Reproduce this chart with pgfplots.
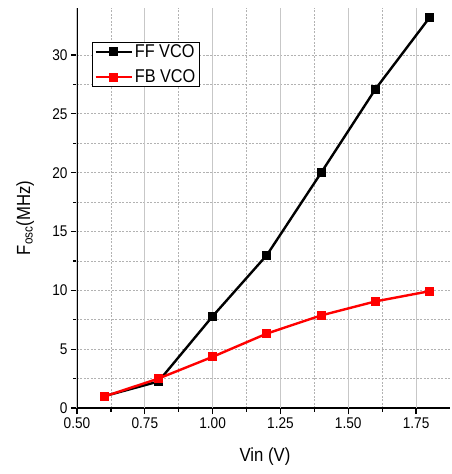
\documentclass[border=0pt]{standalone}
\usepackage{pgfplots}
\pgfplotsset{compat=1.18}
\usepackage{fontspec}
\setmainfont{Liberation Sans}[FakeStretch=0.88]
\begin{document}
\begin{tikzpicture}[x=1pt,y=1pt]
\begin{axis}[
  at={(0pt,0pt)}, anchor=south west,
  scale only axis, width=373pt, height=400pt,
  xmin=0.5, xmax=1.875, ymin=0, ymax=34,
  axis lines=left,
  axis line style={-, line width=1.6pt},
  xtick={0.5,0.75,1.0,1.25,1.5,1.75},
  ytick={0,5,10,15,20,25,30},
  minor x tick num=1, minor y tick num=1,
  tick align=outside,
  major tick length=6pt, minor tick length=3.5pt,
  tick style={black, line width=1.2pt},
  xminorgrids=true, yminorgrids=true, ymajorgrids=true, xmajorgrids=false,
  grid style={black!30, dash pattern=on 2pt off 1.5pt, line width=0.8pt},
  extra x ticks={0.5,0.75,1.0,1.25,1.5,1.75},
  extra x tick labels={},
  extra x tick style={grid=major, major grid style={solid, black!22, line width=1pt}},
  /pgf/number format/assume math mode=true,
  ticklabel style={font=\fontsize{15.5}{18}\selectfont},
  xticklabel style={/pgf/number format/.cd, fixed, fixed zerofill, precision=2},
  yticklabel style={/pgf/number format/.cd, fixed, precision=0},
  xlabel={Vin (V)},
  ylabel={F\textsubscript{osc}(MHz)},
  xlabel style={font=\fontsize{19}{22}\selectfont, at={(axis description cs:0.504,-0.1225)}, anchor=center},
  ylabel style={font=\fontsize{19}{22}\selectfont, at={(axis description cs:-0.139,0.475)}, anchor=center},
  legend style={at={(axis description cs:0.040,0.915)}, anchor=north west,
    font=\fontsize{18.5}{21}\selectfont, draw=black, line width=1pt,
    inner xsep=2pt, inner ysep=0pt, row sep=7pt},
  legend cell align=left,
  legend image code/.code={
    \draw[mark repeat=2, mark phase=2, #1] plot coordinates {(0pt,0pt) (18pt,0pt) (36pt,0pt)};
  },
]
\addplot[black, line width=2.4pt, mark=square*, mark size=4pt, mark options={solid, line width=1pt}]
  coordinates {(0.6,1.0) (0.8,2.25) (1.0,7.8) (1.2,13.0) (1.4,20.0) (1.6,27.1) (1.8,33.2)};
\addlegendentry{FF VCO}
\addplot[red, line width=2.4pt, mark=square*, mark size=4pt, mark options={solid, line width=1pt}]
  coordinates {(0.6,0.97) (0.8,2.5) (1.0,4.35) (1.2,6.33) (1.4,7.87) (1.6,9.06) (1.8,9.93)};
\addlegendentry{FB VCO}
\end{axis}
\pgfresetboundingbox
\path[use as bounding box] (-77pt,-66pt) rectangle (374pt,408pt);
\end{tikzpicture}
\end{document}
